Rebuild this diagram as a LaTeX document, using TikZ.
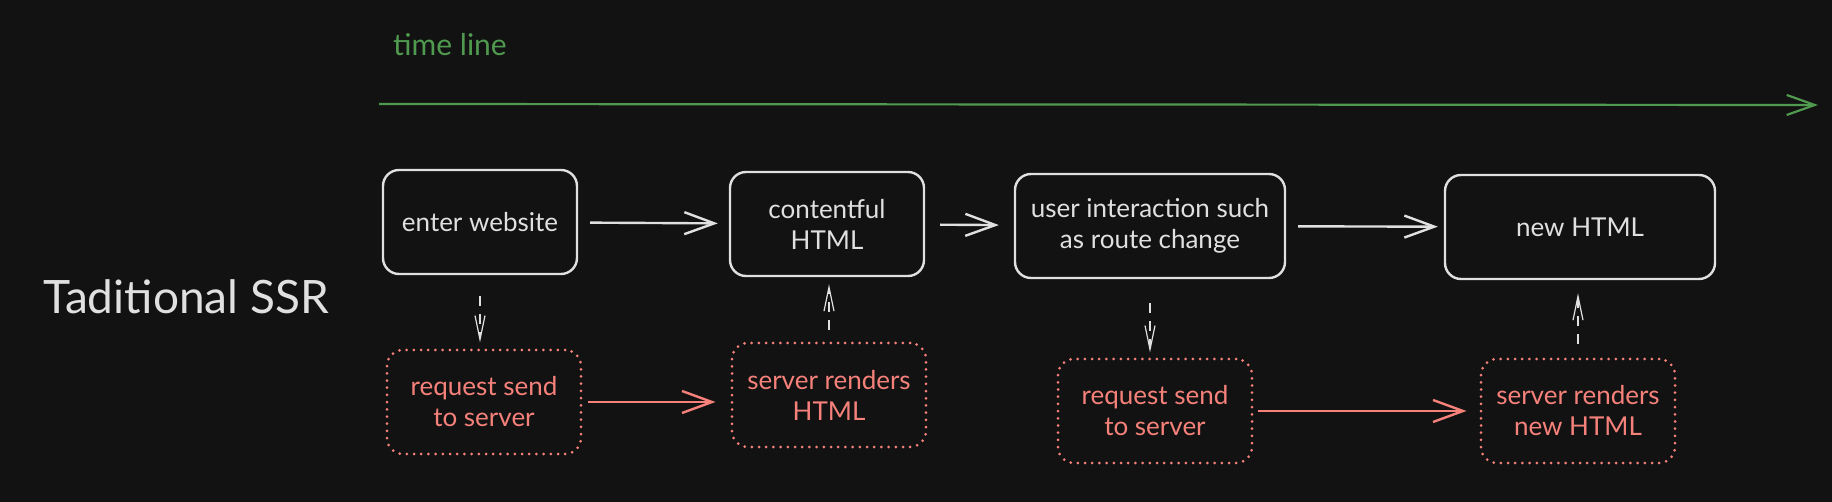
\documentclass[tikz,border=0pt]{standalone}
\usepackage{fontspec}
\setmainfont{Lato}
\usetikzlibrary{arrows.meta}
\definecolor{bg}{HTML}{121212}
\definecolor{chalk}{HTML}{E0E0E0}
\definecolor{timegreen}{HTML}{4F9A4F}
\definecolor{salmon}{HTML}{F5817A}

\tikzset{
  box/.style={draw=chalk,line width=1.2pt,rounded corners=8pt,text=chalk,align=center,
    font=\fontsize{13}{15.5}\selectfont,minimum width=97pt,minimum height=52pt,inner sep=0pt},
  wide/.style={minimum width=135pt},
  dotbox/.style={box,draw=salmon,text=salmon,line width=1.5pt,line cap=round,dash pattern=on 0pt off 3.6pt},
  flow/.style={draw=chalk,line width=1.2pt,-{Straight Barb[length=15pt,width=11pt]}},
  redflow/.style={flow,draw=salmon},
  dashflow/.style={draw=chalk,line width=0.6pt,dash pattern=on 5pt off 4pt,-{Straight Barb[length=12pt,width=5pt]}}
}

\begin{document}
\begin{tikzpicture}[x=0.5pt,y=-0.5pt]
	\fill[bg] (0,0) rectangle (1832,502);
	% time line
	\node[text=timegreen,font=\fontsize{15}{18}\selectfont] (timelabel) at (450,45) {time line};
	\coordinate (tstart) at (379,104);
	\coordinate (tend) at (1818,105);
	\draw[draw=timegreen,line width=1.1pt,-{Straight Barb[length=14pt,width=10pt]}] (tstart) -- (tend);
	\node[text=chalk,font=\fontsize{23}{27}\selectfont] (ssrlabel) at (186,297) {Taditional SSR};
	% client side
	\node[box] (enter) at (480,222) {enter website};
	\node[box] (content) at (827,224) {contentful\\HTML};
	\node[box,wide] (interact) at (1150,226) {user interaction such\\as route change};
	\node[box,wide] (newhtml) at (1580,227) {new HTML};
	% server side
	\node[dotbox] (request) at (484,402) {request send\\to server};
	\node[dotbox] (render) at (829,395) {server renders\\HTML};
	\node[dotbox] (rerequest) at (1155,411) {request send\\to server};
	\node[dotbox] (rerender) at (1578,411) {server renders\\new HTML};
	% arrows
	\draw[flow,shorten <=6pt,shorten >=5.5pt] (enter) -- (content);
	\draw[flow,shorten <=7.5pt,shorten >=7.5pt] (content) -- (interact);
	\draw[flow,shorten <=6pt,shorten >=3pt] (interact) -- (newhtml);
	\draw[redflow,shorten <=2.5pt,shorten >=7.5pt] (request.east) -- (request.east -| render.west);
	\draw[redflow,shorten <=2pt,shorten >=6.5pt] (rerequest) -- (rerender);
	\draw[dashflow,shorten <=10.5pt,shorten >=3pt] (enter.south) -- (enter.south |- request.north);
	\draw[dashflow,shorten <=5.5pt,shorten >=3.5pt] (render.north) -- (render.north |- content.south);
	\draw[dashflow,shorten <=12pt,shorten >=2.5pt] (interact.south) -- (interact.south |- rerequest.north);
	\draw[dashflow,shorten <=6.5pt,shorten >=6.5pt] (rerender.north) -- (rerender.north |- newhtml.south);
\end{tikzpicture}
\end{document}
